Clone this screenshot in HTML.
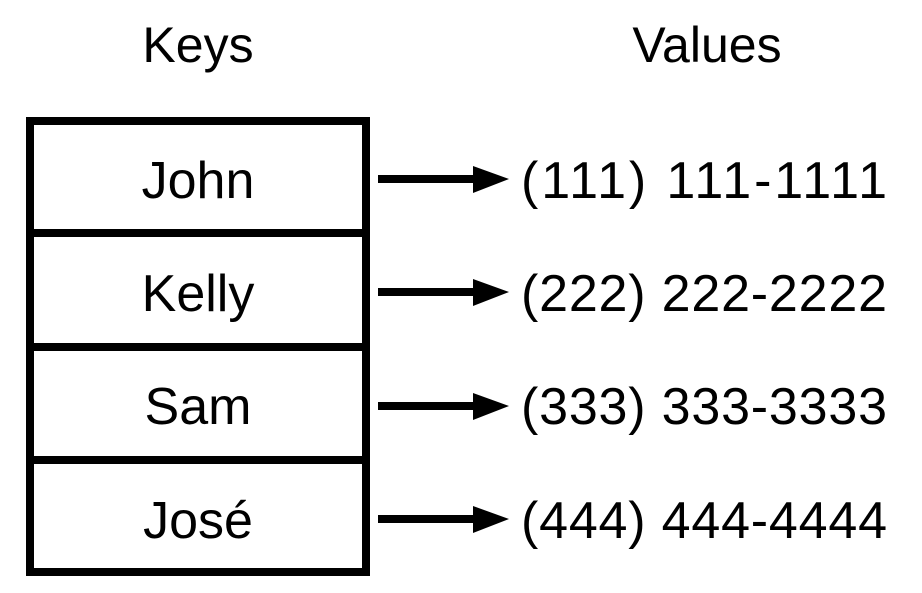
<!DOCTYPE html>
<html><head><meta charset="utf-8"><style>
html,body{margin:0;padding:0;background:#fff;}
</style></head><body>
<svg width="922" height="588" viewBox="0 0 922 588" xmlns="http://www.w3.org/2000/svg" font-family="Liberation Sans, sans-serif">
<rect width="922" height="588" fill="#fff"/>
<text x="198" y="62" font-size="50" text-anchor="middle">Keys</text>
<text x="707" y="62" font-size="50" text-anchor="middle">Values</text>
<g fill="none" stroke="#000" stroke-width="8">
<rect x="30" y="121" width="336" height="451"/>
<line x1="30" y1="233" x2="366" y2="233"/>
<line x1="30" y1="347" x2="366" y2="347"/>
<line x1="30" y1="460" x2="366" y2="460"/>
</g>
<g font-size="52" text-anchor="middle">
<text x="198" y="198">John</text>
<text x="198" y="311">Kelly</text>
<text x="198" y="424">Sam</text>
<text x="198" y="538">José</text>
</g>
<g fill="#000">
<rect x="378" y="175" width="98" height="8"/><polygon points="473,166 509,179 473,193"/>
<rect x="378" y="288" width="98" height="8"/><polygon points="473,279 509,292 473,306"/>
<rect x="378" y="402" width="98" height="8"/><polygon points="473,393 509,406 473,420"/>
<rect x="378" y="515" width="98" height="8"/><polygon points="473,506 509,519 473,533"/>
</g>
<g font-size="52">
<text x="521" y="198" textLength="366" lengthAdjust="spacing">(111) 111-1111</text>
<text x="521" y="311" textLength="366" lengthAdjust="spacing">(222) 222-2222</text>
<text x="521" y="424" textLength="366" lengthAdjust="spacing">(333) 333-3333</text>
<text x="521" y="538" textLength="366" lengthAdjust="spacing">(444) 444-4444</text>
</g>
</svg>
</body></html>
